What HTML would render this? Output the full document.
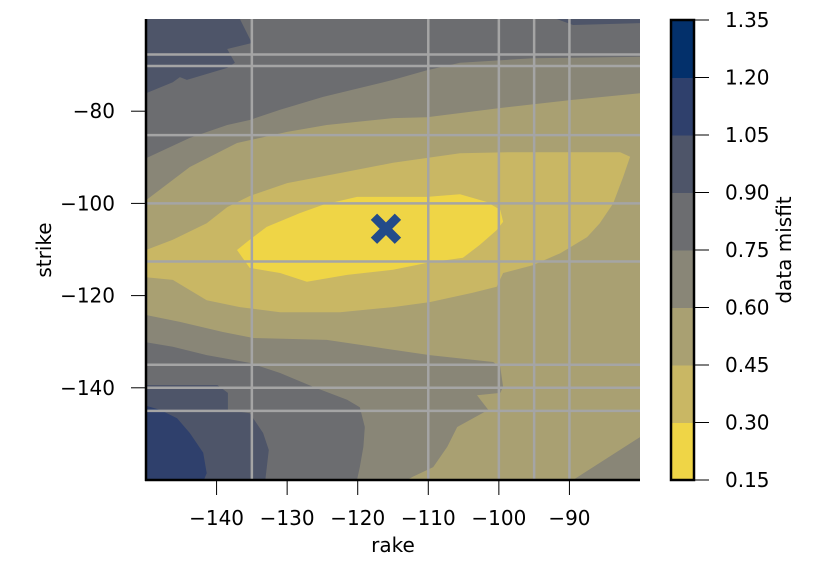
<!DOCTYPE html>
<html><head><meta charset="utf-8"><style>
html,body{margin:0;padding:0;background:#fff;}
svg{display:block;font-family:"DejaVu Sans","Liberation Sans",sans-serif;}
</style></head><body>
<svg id="chart" width="826" height="584" viewBox="0 0 826 584" xmlns="http://www.w3.org/2000/svg"></svg>
<script>
const rakeTicks=[-140,-130,-120,-110,-100,-90];
const strikeTicks=[-80,-100,-120,-140];
const cbLevels=[0.15,0.30,0.45,0.60,0.75,0.90,1.05,1.20,1.35];
const cbColors=["#efd546","#c9b764","#a9a072","#898677","#6c6d70","#4e5569","#2f406c","#03306b"];
const gridRakes=[-135,-110,-100,-95,-90];
const gridStrikes=[-67.7,-70.2,-85.2,-100,-112.6,-135,-140,-145];
const best=[-116,-105.5];
// contour regions (rake, strike), drawn on a 0.75-0.90 background
const darkTL=[[-150,-60],[-136.7,-60],[-135,-65.2],[-138.5,-66.5],[-137.4,-69.5],[-138.5,-70.6],[-144.2,-73.2],[-145.2,-72.6],[-146.2,-73.7],[-150,-76.1]];
const darkTR=[[-91.8,-60],[-80,-60],[-80,-60.9],[-89.5,-61.3]];
const darkBL=[[-150,-139.4],[-139.9,-139.4],[-138.4,-141.1],[-138.4,-144.8],[-135.3,-145.5],[-133.4,-149.8],[-132.6,-153.5],[-133.1,-160],[-150,-160]];
const darkestBL=[[-150,-143.9],[-148,-144.8],[-145.6,-146.6],[-143.8,-149.8],[-141.9,-154.1],[-141.4,-158.5],[-141.8,-160],[-150,-160]];
const lt075=[[-150,-90.2],[-143.8,-85.8],[-138.5,-83],[-135.3,-81.9],[-131,-79.7],[-124.9,-76.9],[-115,-73.2],[-110.2,-71.1],[-105.5,-69.5],[-95.2,-68.5],[-80,-68.2],[-80,-160],[-120.1,-160],[-119.7,-157.2],[-119.2,-152.8],[-119,-148.5],[-119.7,-144.2],[-121.5,-142.6],[-126.3,-139.8],[-131,-136.8],[-135.3,-134.6],[-141.4,-132.9],[-146.2,-131.1],[-150,-130.1]];
const lt060=[[-150,-99.3],[-143.8,-92.1],[-137.1,-86.9],[-130,-84.5],[-124.4,-83],[-115,-81.5],[-110.2,-81.3],[-99.8,-79.3],[-89.9,-77.6],[-80,-76.1],[-80,-150.7],[-89.5,-160],[-113,-160],[-112.2,-159.3],[-109.3,-157.2],[-107.3,-152.8],[-105.9,-148.5],[-101.5,-144.8],[-103.1,-141.6],[-99.8,-141.1],[-99.4,-139.8],[-99.8,-135.5],[-100.8,-134.4],[-109.8,-132.9],[-117.8,-131.1],[-124.4,-129.6],[-134.8,-129.2],[-139.1,-127.9],[-145.2,-125.7],[-150,-124.2]];
const lt045=[[-150,-110.1],[-146.2,-107.9],[-141.4,-104.3],[-138.5,-100.8],[-135.3,-98.4],[-130,-95.6],[-122.5,-93.4],[-115,-91.2],[-105.5,-89.1],[-98.8,-88.9],[-82.8,-88.9],[-81.4,-89.9],[-82.4,-94.3],[-83.8,-100],[-85.7,-104.3],[-87.5,-107.3],[-91.3,-110.8],[-95.2,-113.4],[-99.4,-115.1],[-100.3,-118.1],[-103.7,-119.4],[-109.8,-121.4],[-115,-122.5],[-122.5,-123.6],[-131,-123.6],[-136.7,-122.5],[-141.4,-121],[-146.2,-116.6],[-150,-116]];
const lt030=[[-137.1,-110.1],[-135.3,-107.9],[-132.9,-105.1],[-128.2,-102.1],[-124.9,-100.3],[-120.1,-98.6],[-110.2,-98.6],[-105.5,-98],[-101.7,-99.7],[-99.8,-101.4],[-99.4,-104],[-100.3,-105.8],[-102.7,-109],[-105.1,-111.8],[-110.2,-112.9],[-115,-114.4],[-121.5,-115.5],[-127.2,-117],[-131,-115.1],[-135.3,-114]];

const svg=document.getElementById('chart');
const NS="http://www.w3.org/2000/svg";
const L=146,R=640,T=19,B=480;
const xMin=-150,xMax=-80,yMin=-160,yMax=-60;
function xs(v){return L+(v-xMin)/(xMax-xMin)*(R-L);}
function ys(v){return B-(v-yMin)/(yMax-yMin)*(B-T);}
function mk(tag,attrs,parent){const e=document.createElementNS(NS,tag);for(const k in attrs)e.setAttribute(k,attrs[k]);(parent||svg).appendChild(e);return e;}
function pts(a){return a.map(p=>xs(p[0]).toFixed(1)+','+ys(p[1]).toFixed(1)).join(' ');}

const plot=mk('g',{});


const bg=mk('rect',{x:L,y:T,width:R-L,height:B-T,fill:cbColors[4]},plot);


const regions=[[darkTL,5,'contour-dark-top-left'],[darkTR,5,'contour-dark-top-right'],[darkBL,5,'contour-dark-bottom-left'],[darkestBL,6,'contour-darkest-bottom-left'],[lt075,3,'contour-below-0.75'],[lt060,2,'contour-below-0.60'],[lt045,1,'contour-below-0.45'],[lt030,0,'contour-below-0.30']];
regions.forEach(r=>{
  const p=mk('polygon',{points:pts(r[0]),fill:cbColors[r[1]]},plot);
  
  
});
gridRakes.forEach(v=>{
  const l=mk('line',{x1:xs(v),x2:xs(v),y1:T,y2:B,stroke:'#a5a5a5','stroke-width':2.5},plot);
  
  
});
gridStrikes.forEach(v=>{
  const l=mk('line',{x1:L,x2:R,y1:ys(v),y2:ys(v),stroke:'#a5a5a5','stroke-width':2.5},plot);
  
  
});
const bx=xs(best[0]),by=ys(best[1]),s=12;
const mkr=mk('path',{d:`M${bx-s},${by-s}L${bx+s},${by+s}M${bx-s},${by+s}L${bx+s},${by-s}`,stroke:'#234b8a','stroke-width':9},plot);



const ax=mk('g',{stroke:'#000'});


mk('line',{x1:L,x2:L,y1:T,y2:B+1,'stroke-width':2.5},ax);
mk('line',{x1:L-1,x2:R,y1:B,y2:B,'stroke-width':2.5},ax);
rakeTicks.forEach(v=>{
  mk('line',{x1:xs(v),x2:xs(v),y1:B,y2:B+15,'stroke-width':1},ax);
  const t=mk('text',{x:xs(v),y:B+45,'text-anchor':'middle','font-size':20,fill:'#000',stroke:'none'});
  t.textContent='\u2212'+Math.abs(v);
  
  
});
strikeTicks.forEach(v=>{
  mk('line',{x1:L-15,x2:L,y1:ys(v),y2:ys(v),'stroke-width':1},ax);
  const t=mk('text',{x:L-31,y:ys(v)+7,'text-anchor':'end','font-size':20,fill:'#000',stroke:'none'});
  t.textContent='\u2212'+Math.abs(v);
  
  
});
const xt=mk('text',{x:393,y:552,'text-anchor':'middle','font-size':20,fill:'#000'});
xt.textContent='rake';


const yt=mk('text',{x:0,y:0,'text-anchor':'middle','font-size':20,fill:'#000',transform:'translate(51,250) rotate(-90)'});
yt.textContent='strike';



const CL=671,CR=694;
const cb=mk('g',{});


const CT=20;
const cmin=cbLevels[0],cmax=cbLevels[cbLevels.length-1];
function cy(v){return B-(v-cmin)/(cmax-cmin)*(B-CT);}
cbColors.forEach((c,i)=>{
  const r=mk('rect',{x:CL,y:cy(cbLevels[i+1]),width:CR-CL,height:cy(cbLevels[i])-cy(cbLevels[i+1])+0.5,fill:c},cb);
  
  
});
mk('rect',{x:CL,y:CT,width:CR-CL,height:B-CT,fill:'none',stroke:'#000','stroke-width':2.5},cb);
cbLevels.forEach(v=>{
  mk('line',{x1:CR,x2:CR+15,y1:cy(v),y2:cy(v),stroke:'#000','stroke-width':1},cb);
  const t=mk('text',{x:CR+31,y:cy(v)+7,'font-size':20,fill:'#000'},cb);
  t.textContent=v.toFixed(2);
  
  
});
const ct=mk('text',{x:0,y:0,'text-anchor':'middle','font-size':20,fill:'#000',transform:'translate(791,250) rotate(-90)'});
ct.textContent='data misfit';


</script>
</body></html>
